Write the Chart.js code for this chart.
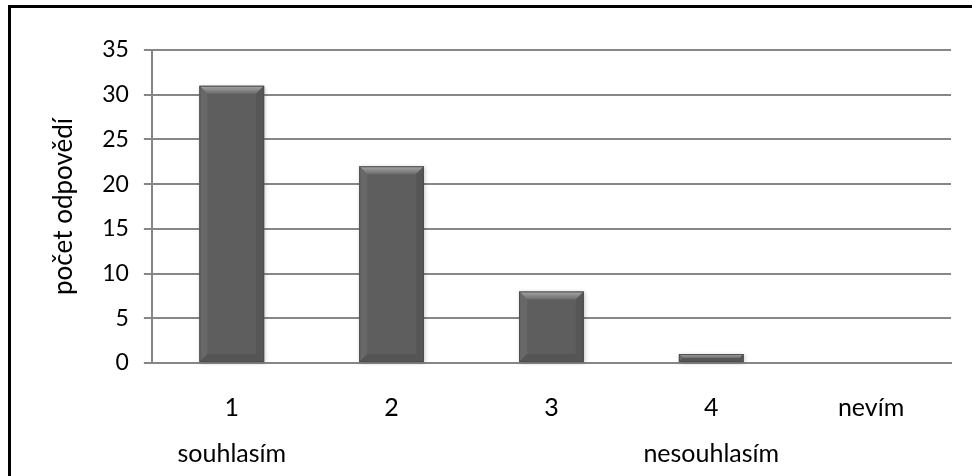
<!DOCTYPE html>
<html>
<head>
<meta charset="utf-8">
<script src="https://cdn.jsdelivr.net/npm/chart.js@4.4.1/dist/chart.umd.min.js"></script>
<style>
  html, body { margin: 0; padding: 0; background: #fff; }
  #wrap { position: relative; width: 972px; height: 476px; overflow: hidden; }
  #frame { position: absolute; left: 8px; top: 5px; width: 1000px; height: 500px;
           border-left: 3px solid #000; border-top: 3px solid #000; box-sizing: border-box; pointer-events: none; }
  canvas { position: absolute; left: 0; top: 0; }
</style>
</head>
<body>
<div id="wrap">
  <canvas id="c" width="972" height="476"></canvas>
  <div id="frame"></div>
</div>
<script>
// Answer scale: 1 = agree ... 4 = disagree, plus "don't know"
const categories = ['1', '2', '3', '4', 'nevím'];
const scaleEnds = ['souhlasím', '', '', 'nesouhlasím', ''];
const responses = [31, 22, 8, 1, 0];
const yTicks = [0, 5, 10, 15, 20, 25, 30, 35];

const FONT = 'Lato, "Open Sans", sans-serif';
const labels = categories.map((c, i) => [c, '', scaleEnds[i]]);

// Beveled bar faces drawn over each bar element
const bevelPlugin = {
  id: 'bevel',
  beforeDatasetsDraw(chart) {
    const ctx = chart.ctx;
    ctx.save();
    ctx.shadowColor = 'rgba(0,0,0,0.22)';
    ctx.shadowBlur = 4;
    ctx.shadowOffsetX = 1;
    ctx.shadowOffsetY = 1;
    chart.getDatasetMeta(0).data.forEach(bar => {
      const p = bar.getProps(['x', 'y', 'base', 'width'], true);
      const h = p.base - p.y;
      if (h <= 0) return;
      ctx.fillStyle = '#ffffff';
      ctx.fillRect(p.x - p.width / 2, p.y, p.width, h);
    });
    ctx.restore();
  },
  afterDatasetsDraw(chart) {
    const ctx = chart.ctx;
    chart.getDatasetMeta(0).data.forEach(bar => {
      const p = bar.getProps(['x', 'y', 'base', 'width'], true);
      const x0 = p.x - p.width / 2, x1 = p.x + p.width / 2;
      const y0 = p.y, y1 = p.base;
      const h = y1 - y0;
      if (h <= 0) return;
      const b = Math.min(8, h / 2, p.width / 2);
      ctx.save();
      // top face
      const g = ctx.createLinearGradient(0, y0, 0, y0 + b);
      g.addColorStop(0, '#a8a8a8');
      g.addColorStop(1, '#6c6c6c');
      ctx.fillStyle = g;
      ctx.beginPath();
      ctx.moveTo(x0, y0); ctx.lineTo(x1, y0); ctx.lineTo(x1 - b, y0 + b); ctx.lineTo(x0 + b, y0 + b);
      ctx.closePath(); ctx.fill();
      // left face
      ctx.fillStyle = '#686868';
      ctx.beginPath();
      ctx.moveTo(x0, y0); ctx.lineTo(x0 + b, y0 + b); ctx.lineTo(x0 + b, y1 - b); ctx.lineTo(x0, y1);
      ctx.closePath(); ctx.fill();
      // right face
      ctx.fillStyle = '#565656';
      ctx.beginPath();
      ctx.moveTo(x1, y0); ctx.lineTo(x1 - b, y0 + b); ctx.lineTo(x1 - b, y1 - b); ctx.lineTo(x1, y1);
      ctx.closePath(); ctx.fill();
      // bottom face
      ctx.fillStyle = '#555555';
      ctx.beginPath();
      ctx.moveTo(x0, y1); ctx.lineTo(x0 + b, y1 - b); ctx.lineTo(x1 - b, y1 - b); ctx.lineTo(x1, y1);
      ctx.closePath(); ctx.fill();
      ctx.strokeStyle = '#4d4d4d';
      ctx.lineWidth = 1;
      ctx.strokeRect(x0 + 0.5, y0 + 0.5, p.width - 1, h - 1);
      ctx.restore();
    });
  }
};

new Chart(document.getElementById('c'), {
  type: 'bar',
  data: {
    labels: labels,
    datasets: [{
      data: responses,
      backgroundColor: '#5e5e5e',
      borderWidth: 0,
      categoryPercentage: 1,
      barPercentage: 0.405
    }]
  },
  options: {
    responsive: false,
    animation: false,
    layout: { padding: { left: 48, right: 21, top: 50, bottom: -22 } },
    plugins: { legend: { display: false }, tooltip: { enabled: false } },
    scales: {
      x: {
        grid: { display: false, drawTicks: false },
        border: { display: true, color: '#868686', width: 2 },
        ticks: {
          color: '#000',
          padding: 33,
          font: { family: FONT, size: 25, lineHeight: 0.92 },
          maxRotation: 0,
          autoSkip: false
        }
      },
      y: {
        min: 0,
        max: 35,
        afterBuildTicks(axis) { axis.ticks = yTicks.map(v => ({ value: v })); },
        grid: { color: '#868686', lineWidth: 2, tickLength: 8 },
        border: { display: true, color: '#868686', width: 2 },
        ticks: {
          color: '#000',
          padding: 15,
          font: { family: FONT, size: 23 }
        },
        title: {
          display: true,
          text: 'počet odpovědí',
          color: '#000',
          padding: { top: 0, bottom: 8 },
          font: { family: FONT, size: 26 }
        }
      }
    }
  },
  plugins: [bevelPlugin]
});
</script>
</body>
</html>
